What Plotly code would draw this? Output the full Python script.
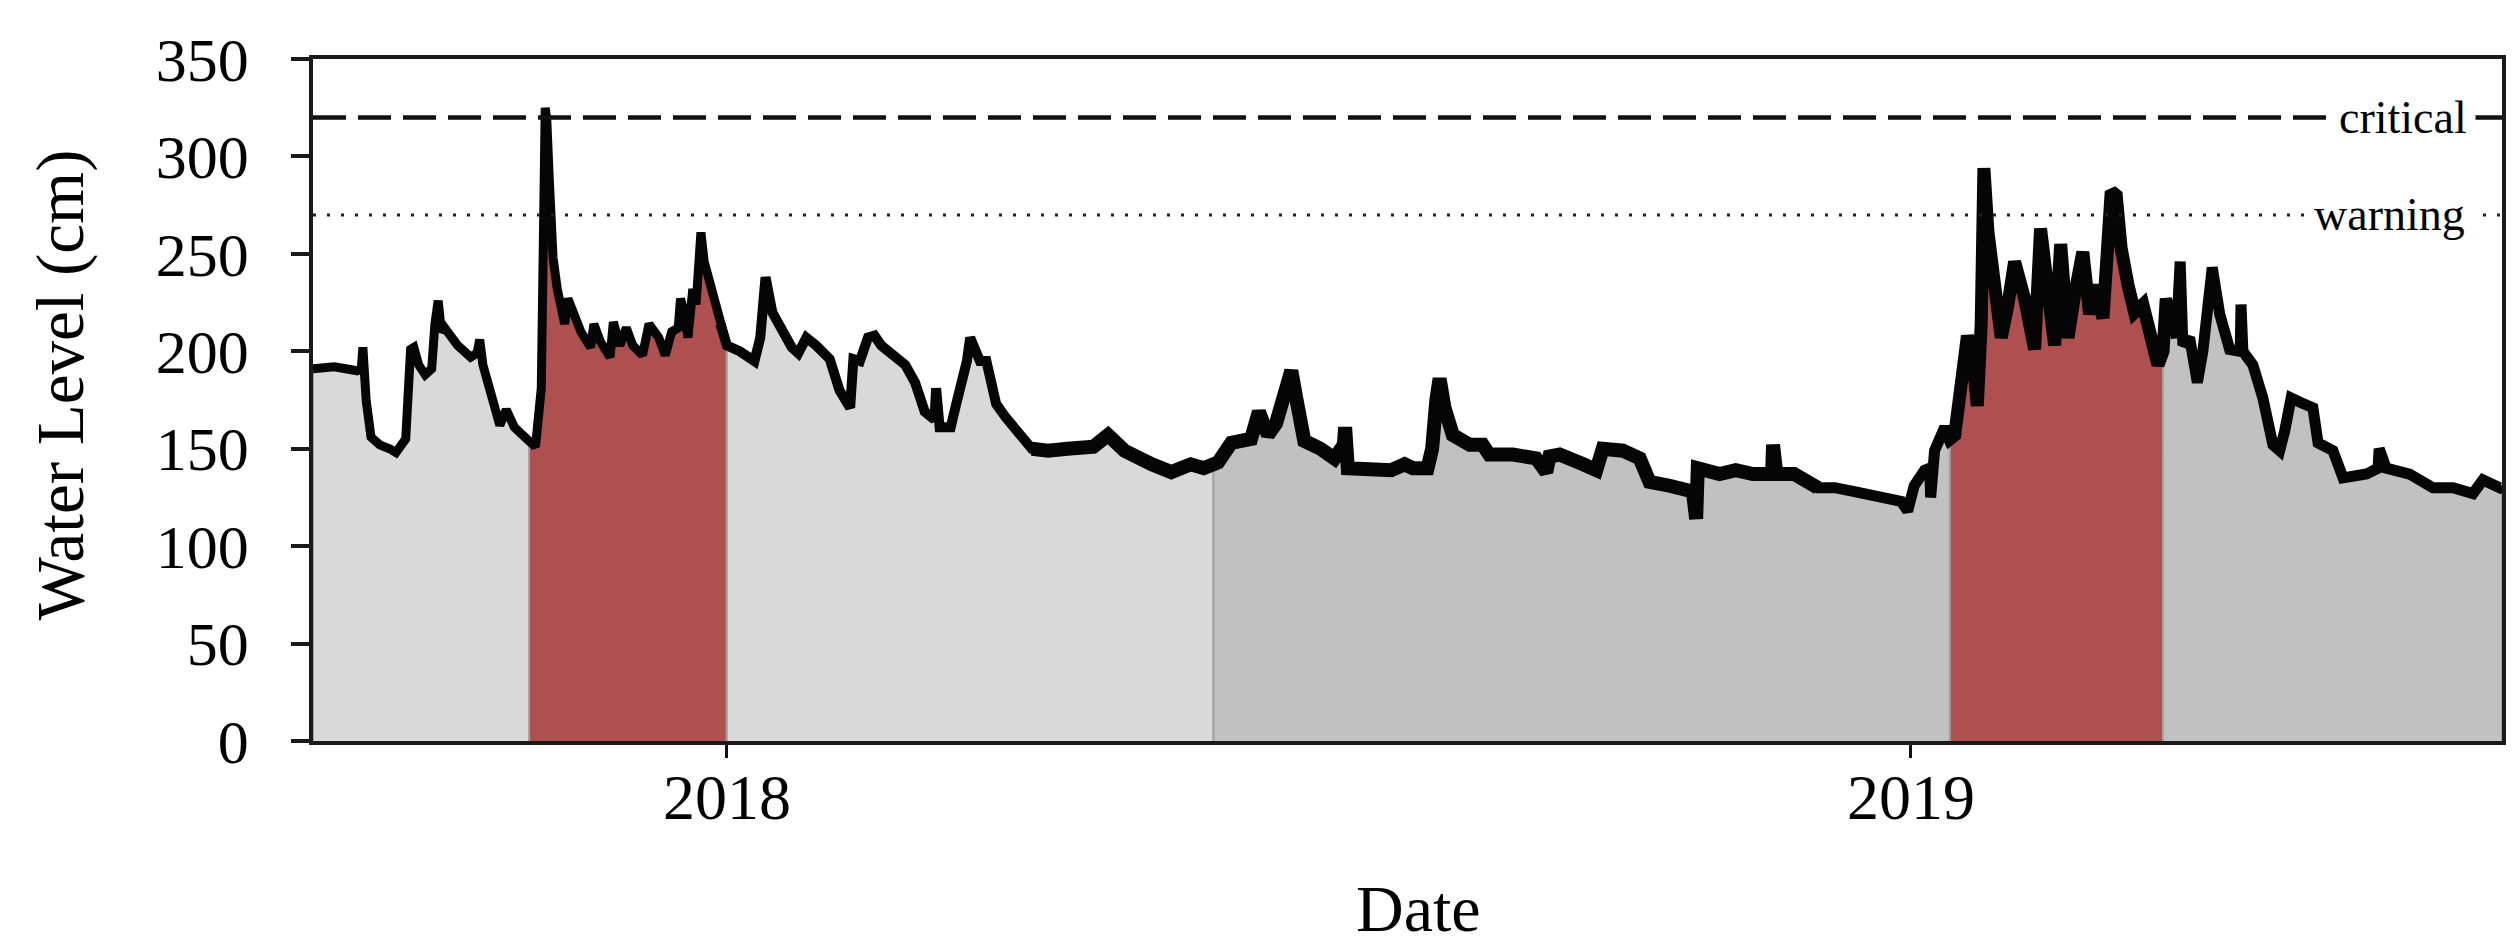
import plotly.graph_objects as go
import pandas as pd

# water level record (cm)
dates = [
    "2017-08-26 10:00", "2017-09-02", "2017-09-09", "2017-09-10 07:00", "2017-09-10 19:00",
    "2017-09-11 19:00", "2017-09-13 07:00", "2017-09-16", "2017-09-19", "2017-09-21",
    "2017-09-24", "2017-09-25", "2017-09-25 12:00", "2017-09-26 12:00", "2017-09-28",
    "2017-09-30", "2017-10-02", "2017-10-03", "2017-10-04", "2017-10-05",
    "2017-10-06", "2017-10-10", "2017-10-14", "2017-10-16", "2017-10-16 19:00",
    "2017-10-17 19:00", "2017-10-21", "2017-10-23", "2017-10-25", "2017-10-27 12:00",
    "2017-11-01", "2017-11-03", "2017-11-04 19:00", "2017-11-06", "2017-11-06 12:00",
    "2017-11-07 07:00", "2017-11-08 10:00", "2017-11-09 17:00", "2017-11-12", "2017-11-13",
    "2017-11-14", "2017-11-15", "2017-11-17", "2017-11-20", "2017-11-21",
    "2017-11-23", "2017-11-26", "2017-11-27", "2017-11-29", "2017-12-01",
    "2017-12-03", "2017-12-06", "2017-12-08", "2017-12-11", "2017-12-13",
    "2017-12-15", "2017-12-17", "2017-12-17 17:00", "2017-12-19", "2017-12-20",
    "2017-12-21 12:00", "2017-12-22 12:00", "2017-12-24", "2017-12-25", "2017-12-27",
    "2017-12-30", "2018-01-01", "2018-01-05", "2018-01-09 12:00", "2018-01-11 07:00",
    "2018-01-12 22:00", "2018-01-15", "2018-01-18", "2018-01-21", "2018-01-23",
    "2018-01-25 12:00", "2018-01-28 12:00", "2018-02-01 17:00", "2018-02-04 17:00", "2018-02-08",
    "2018-02-09", "2018-02-11", "2018-02-13 12:00", "2018-02-15 12:00", "2018-02-17 14:00",
    "2018-02-21", "2018-02-25", "2018-02-28", "2018-03-03", "2018-03-06",
    "2018-03-06 12:00", "2018-03-07 14:00", "2018-03-11", "2018-03-12 17:00", "2018-03-16",
    "2018-03-17", "2018-03-20", "2018-03-22", "2018-03-25", "2018-03-28",
    "2018-04-01", "2018-04-05", "2018-04-10", "2018-04-16", "2018-04-24",
    "2018-04-28 12:00", "2018-05-03 14:00", "2018-05-12", "2018-05-18", "2018-05-24",
    "2018-05-28", "2018-05-31", "2018-06-01 10:00", "2018-06-05 12:00", "2018-06-11 14:00",
    "2018-06-14", "2018-06-16 19:00", "2018-06-19 07:00", "2018-06-22 10:00", "2018-06-24",
    "2018-06-25 12:00", "2018-06-28", "2018-07-03", "2018-07-07 07:00", "2018-07-10 05:00",
    "2018-07-10 14:00", "2018-07-11 10:00", "2018-07-18 14:00", "2018-07-24 19:00", "2018-07-28 22:00",
    "2018-07-31 12:00", "2018-08-05", "2018-08-06 10:00", "2018-08-07 17:00", "2018-08-08 17:00",
    "2018-08-10 05:00", "2018-08-12 19:00", "2018-08-18", "2018-08-22", "2018-08-24",
    "2018-08-31 07:00", "2018-09-07 12:00", "2018-09-10 14:00", "2018-09-11 14:00", "2018-09-14 17:00",
    "2018-09-22", "2018-09-26", "2018-09-28", "2018-10-04 05:00", "2018-10-09 10:00",
    "2018-10-12 10:00", "2018-10-18 14:00", "2018-10-25 19:00", "2018-10-26 19:00", "2018-10-27 07:00",
    "2018-11-03", "2018-11-08", "2018-11-13 07:00", "2018-11-19 05:00", "2018-11-19 12:00",
    "2018-11-20 12:00", "2018-11-26", "2018-12-03 07:00", "2018-12-08 12:00", "2018-12-14 14:00",
    "2018-12-21 19:00", "2018-12-29", "2018-12-31", "2019-01-02", "2019-01-05 05:00",
    "2019-01-06 19:00", "2019-01-07 02:00", "2019-01-08 07:00", "2019-01-11 10:00", "2019-01-13",
    "2019-01-14 12:00", "2019-01-16 12:00", "2019-01-18 10:00", "2019-01-20 02:00", "2019-01-21 11:00",
    "2019-01-22 16:00", "2019-01-23 12:00", "2019-01-24 18:00", "2019-01-26 19:00", "2019-01-28 20:00",
    "2019-01-30 22:00", "2019-02-01 23:00", "2019-02-05 01:00", "2019-02-08 03:00", "2019-02-09 23:00",
    "2019-02-11 17:00", "2019-02-14 07:00", "2019-02-16 04:00", "2019-02-18 10:00", "2019-02-20 11:00",
    "2019-02-23 00:00", "2019-02-25 02:00", "2019-02-26 15:00", "2019-03-01 05:00", "2019-03-03 18:00",
    "2019-03-05 07:00", "2019-03-06 19:00", "2019-03-08 22:00", "2019-03-10 23:00", "2019-03-13 12:00",
    "2019-03-15 14:00", "2019-03-18 04:00", "2019-03-19 17:00", "2019-03-20 17:00", "2019-03-23 19:00",
    "2019-03-25 00:00", "2019-03-25 20:00", "2019-03-27 22:00", "2019-03-30 07:00", "2019-04-01 00:00",
    "2019-04-03 21:00", "2019-04-06 05:00", "2019-04-09 06:00", "2019-04-12 12:00", "2019-04-12 18:00",
    "2019-04-13 08:00", "2019-04-16 10:00", "2019-04-19 12:00", "2019-04-22 14:00", "2019-04-24 16:00",
    "2019-04-26 05:00", "2019-04-28 05:00", "2019-04-30 19:00", "2019-05-04 22:00", "2019-05-06 12:00",
    "2019-05-11 02:00", "2019-05-14 05:00", "2019-05-21 10:00", "2019-05-25 00:00", "2019-05-25 08:00",
    "2019-05-27 12:00", "2019-06-03 17:00", "2019-06-10 22:00", "2019-06-17 02:00", "2019-06-23 06:00",
    "2019-06-26 08:00", "2019-07-01 12:00", "2019-07-02 05:00",
]
level = [
    191, 192, 190, 191, 202,
    175, 156, 152, 150, 148,
    155, 180, 201, 202, 193,
    188, 191, 214, 226, 210,
    212, 203, 197, 199, 206,
    193, 176, 162, 170, 161,
    154, 151, 181, 325, 318,
    287, 248, 232, 214, 227,
    222, 220, 210, 202, 214,
    205, 197, 215, 203, 212,
    203, 198, 214, 207, 198,
    210, 212, 227, 219, 207,
    232, 224, 261, 246, 234,
    214, 203, 200, 195, 207,
    238, 220, 210, 202, 199,
    207, 203, 196, 180, 171,
    196, 195, 207, 208, 203,
    198, 193, 184, 169, 165,
    181, 161, 161, 173, 195,
    207, 195, 195, 173, 166,
    157, 150, 149, 150, 151,
    157, 149, 142, 138, 142,
    140, 142, 143, 153, 155,
    169, 157, 163, 180, 190,
    176, 154, 150, 145, 152,
    161, 140, 140, 139, 142,
    140, 140, 150, 175, 186,
    171, 157, 152, 152, 147,
    147, 145, 138, 146, 147,
    142, 139, 150, 149, 145,
    133, 131, 128, 114, 140,
    137, 139, 137, 137, 152,
    137, 137, 130, 130, 128,
    125, 123, 118, 131, 139,
    140, 125, 149, 161, 155,
    157, 181, 208, 196, 172,
    214, 294, 261, 232, 207,
    224, 246, 227, 201, 263,
    234, 203, 255, 207, 229,
    251, 219, 234, 217, 282,
    280, 253, 234, 220, 224,
    212, 193, 200, 227, 207,
    246, 203, 207, 184, 200,
    243, 219, 201, 200, 224,
    200, 193, 176, 152, 149,
    159, 176, 174, 171, 153,
    149, 135, 137, 140, 150,
    140, 137, 130, 130, 127,
    134, 130, 131,
]

# shaded periods under the curve
period_edges = ["2017-08-26 10:00", "2017-11-01", "2018-01-01", "2018-05-31",
                "2019-01-13", "2019-03-19 17:00", "2019-07-02 05:00"]
period_colors = ["#d9d9d9", "#ae5050", "#d9d9d9", "#c1c1c1", "#ae5050", "#c1c1c1"]

critical_level = 320
warning_level = 270

FONT = "Liberation Serif, Times New Roman, serif"

# the logger trace is noisier in some stretches -> drawn heavier there
stroke_edges = ["2017-08-26 10:00", "2018-01-01", "2018-04-10", "2018-11-26",
                "2019-01-13", "2019-03-19 17:00", "2019-07-02 05:00"]
stroke_widths = [9, 10, 14, 11, 13, 11]

t = pd.to_datetime(pd.Series(dates), format="ISO8601")
lv = pd.Series(level, dtype=float)
edges = pd.to_datetime(pd.Series(period_edges), format="ISO8601")
s_edges = pd.to_datetime(pd.Series(stroke_edges), format="ISO8601")

fig = go.Figure()

for i, col in enumerate(period_colors):
    a, b = edges[i], edges[i + 1]
    m = (t >= a) & (t <= b)
    xs = [a] + list(t[m]) + [b]
    ys = [0] + list(lv[m]) + [0]
    fig.add_trace(go.Scatter(x=xs, y=ys, mode="lines", fill="toself",
                             fillcolor=col, line=dict(color="#a3a3a3", width=2),
                             hoverinfo="skip", showlegend=False))

# heavier strokes first so thinner pieces sit on top; pieces overlap by one point
order = sorted(range(len(stroke_widths)), key=lambda k: -stroke_widths[k])
for i in order:
    idx = t.index[(t >= s_edges[i]) & (t <= s_edges[i + 1])]
    lo, hi = max(idx.min() - 1, 0), min(idx.max() + 1, len(t) - 1)
    fig.add_trace(go.Scatter(x=t[lo:hi + 1], y=lv[lo:hi + 1], mode="lines",
                             line=dict(color="#050505", width=stroke_widths[i]),
                             showlegend=False, name="Water level"))

fig.add_hline(y=critical_level, line=dict(color="#111", width=4.5, dash="33px,12px"))
fig.add_hline(y=warning_level, line=dict(color="#222", width=3, dash="3px,11px"))

fig.add_annotation(x=0.955, y=critical_level, xref="paper", yref="y", text="critical",
                   showarrow=False, bgcolor="white", borderpad=8,
                   font=dict(family=FONT, size=46, color="black"),
                   xanchor="center", yanchor="middle")
fig.add_annotation(x=0.9485, y=warning_level, xref="paper", yref="y", text="warning",
                   showarrow=False, bgcolor="white", borderpad=8,
                   font=dict(family=FONT, size=46, color="black"),
                   xanchor="center", yanchor="middle")

fig.add_annotation(x=0.505, y=-0.246, xref="paper", yref="paper", text="Date",
                   showarrow=False, font=dict(family=FONT, size=66, color="black"),
                   xanchor="center", yanchor="middle")
fig.add_annotation(x=-0.115, y=0.522, xref="paper", yref="paper", text="Water Level (cm)",
                   showarrow=False, textangle=-90, font=dict(family=FONT, size=67, color="black"),
                   xanchor="center", yanchor="middle")

fig.update_layout(
    width=2514, height=951,
    margin=dict(l=305, r=20, t=51, b=218),
    paper_bgcolor="white", plot_bgcolor="white",
    font=dict(family=FONT, color="black"),
    showlegend=False,
    xaxis=dict(type="date", range=[period_edges[0], period_edges[-1]],
               tickvals=["2018-01-01", "2019-01-01"], ticktext=["2018", "2019"],
               ticks="outside", ticklen=13, tickwidth=2.5, tickcolor="#111",
               tickfont=dict(family=FONT, size=64), ticklabelstandoff=-16,
               showline=True, linewidth=3.5, linecolor="#1a1a1a", mirror=True,
               showgrid=False, zeroline=False),
    yaxis=dict(range=[0, 350], dtick=50, ticks="outside", ticklen=18, tickwidth=3.5,
               tickcolor="#1a1a1a", tickfont=dict(family=FONT, size=62),
               ticklabelstandoff=30,
               showline=True, linewidth=3.5, linecolor="#1a1a1a", mirror=True,
               showgrid=False, zeroline=False),
)

fig.write_html("out.html")
